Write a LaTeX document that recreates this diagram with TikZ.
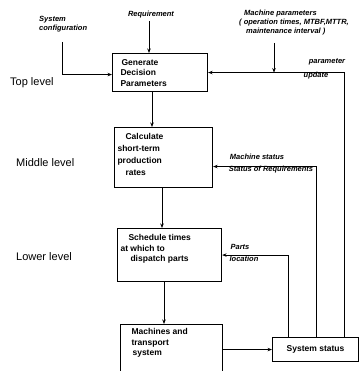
\documentclass[tikz,border=0pt]{standalone}
\usepackage{fontspec}
\setmainfont{Liberation Sans}
\usepackage{tikz}
\usetikzlibrary{calc,arrows.meta}

\newcommand{\boxlines}[3]{\parbox[c][#2][t]{#1}{\raggedright #3}}

\begin{document}
\begin{tikzpicture}[x=1pt,y=-1pt,>={Stealth[length=4.5pt,width=3.5pt]},
    stagebox/.style={draw, line width=1.1pt, anchor=north west, inner xsep=3pt, inner ysep=6pt,
      font=\fontsize{8.5}{10.5}\selectfont\bfseries},
    note/.style={inner sep=0pt, font=\fontsize{7.5}{9}\selectfont\bfseries\itshape},
    level/.style={anchor=west, inner sep=0pt, font=\fontsize{11}{13}\selectfont},
    flow/.style={->, line width=0.8pt}]

    \useasboundingbox (0,0) rectangle (359,371);

    % levels
    \node[level] (toplvl) at (10,83) {Top level};
    \node[level] (midlvl) at (16,163) {Middle level};
    \node[level] (lowlvl) at (16,257) {Lower level};

    % stages
    \node[stagebox] (gen) at (112,53) {\boxlines{89pt}{26pt}{\hspace*{6pt}Generate\\\hspace*{5pt}Decision\\\hspace*{5pt}Parameters}};
    \node[stagebox, font=\fontsize{8.5}{12}\selectfont\bfseries] (calc) at (114,127) {\boxlines{92pt}{48pt}{\hspace*{8pt}Calculate\\short-term\\production\\\hspace*{8pt}rates}};
    \node[stagebox] (sched) at (117,228) {\boxlines{98pt}{41pt}{\hspace*{8pt}Schedule times\\at which to\\\hspace*{10pt}dispatch parts}};
    \node[stagebox] (mach) at (120,324) {\boxlines{96pt}{58pt}{\vspace*{-2pt}\hspace*{8pt}Machines and\\\hspace*{8pt}transport\\\hspace*{9pt}system}};
    \node[draw, line width=1.1pt, anchor=north west, minimum width=86pt, minimum height=24pt, inner sep=0pt,
      font=\fontsize{8.5}{10}\selectfont\bfseries] (sys) at (272,337) {System status};

    % inputs
    \node[note, align=left, anchor=north west] (cfg) at (39,16) {System\\configuration};
    \node[note] (req) at (151,15) {Requirement};
    \node[note, align=left, anchor=north west] (mpar) at (239,10) {\hspace*{5pt}Machine parameters\\( operation times, MTBF,MTTR,\\\hspace*{7pt}maintenance interval )};
    \node[note] (parupd) at (327,62) {parameter};
    \node[note] (upd) at (316,76) {update};
    \node[note] (mstat) at (257,157) {Machine status};
    \node[note] (rstat) at (271,170) {Status of Requirements};
    \node[note] (pparts) at (240,247) {Parts};
    \node[note] (ploc) at (244,259) {location};

    \coordinate (cfgin) at (62,42);
    \coordinate (reqin) at (149,21);
    \coordinate (mparin) at (274,43);

    \draw[flow] (cfgin) |- ($(gen.west)+(0,2)$);
    \draw[flow] (reqin) -- (reqin |- gen.north);
    \draw[flow] (mparin) -- (mparin |- gen.east);

    % feedback from system status
    \draw[flow] ($(sys.north west)+(72,0)$) |- (gen.east);
    \draw[flow] ($(sys.north west)+(44,0)$) |- ($(calc.east)+(0,9)$);
    \draw[flow] ($(sys.north west)+(16,0)$) |- (sched.east);

    % downward
    \draw[flow] ($(gen.south west)+(40,0)$) coordinate (g1) -- (g1 |- calc.north);
    \draw[flow] ($(calc.south west)+(48,0)$) coordinate (c1) -- (c1 |- sched.north);
    \draw[flow] ($(sched.south west)+(47,0)$) coordinate (s1) -- (s1 |- mach.north);
    \draw[flow] (mach.east |- sys.west) -- (sys.west);
\end{tikzpicture}
\end{document}
